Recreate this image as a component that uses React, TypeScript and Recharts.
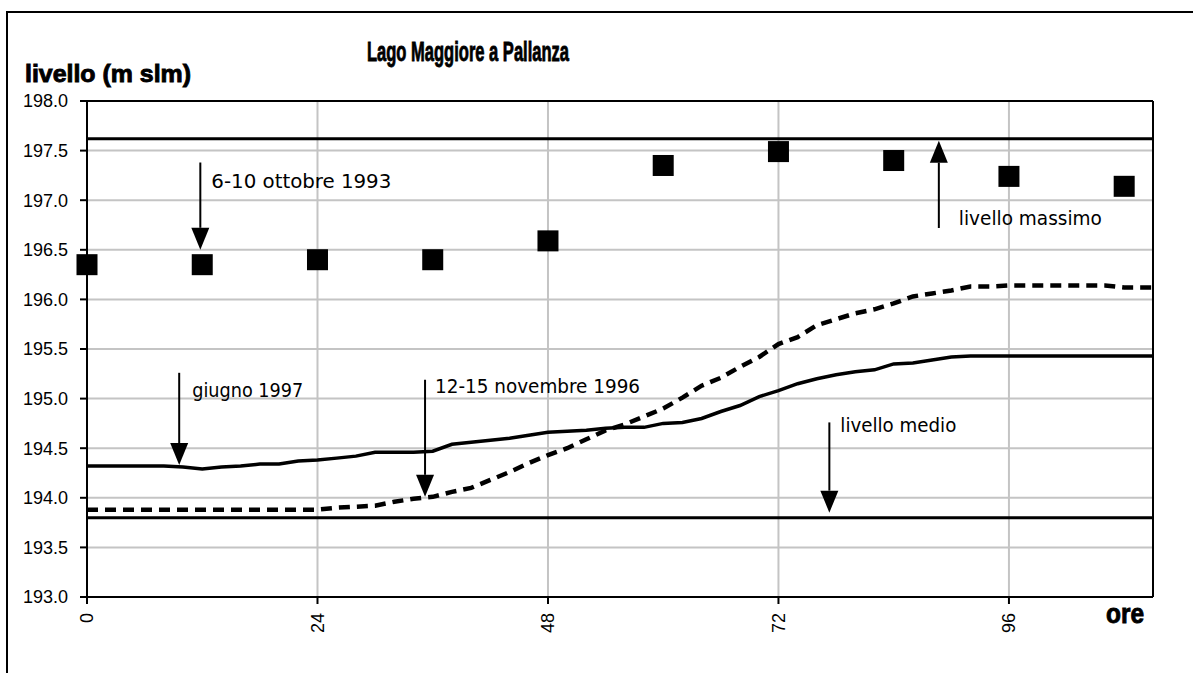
import { ComposedChart, Line, Scatter, XAxis, YAxis, CartesianGrid, ReferenceLine } from 'recharts';

// ore dall'inizio dell'evento
const ore = [0, 2, 4, 6, 8, 10, 12, 14, 16, 18, 20, 22, 24, 26, 28, 30, 32, 34, 36, 38, 40, 42, 44, 46, 48, 50, 52, 54, 56, 58, 60, 62, 64, 66, 68, 70, 72, 74, 76, 78, 80, 82, 84, 86, 88, 90, 92, 94, 96, 98, 100, 102, 104, 106, 108, 110, 111];

const giugno1997 = [194.32, 194.32, 194.32, 194.32, 194.32, 194.31, 194.29, 194.31, 194.32, 194.34, 194.34, 194.37, 194.38, 194.40, 194.42, 194.46, 194.46, 194.46, 194.47, 194.54, 194.56, 194.58, 194.60, 194.63, 194.66, 194.67, 194.68, 194.70, 194.71, 194.71, 194.75, 194.76, 194.80, 194.87, 194.93, 195.02, 195.08, 195.15, 195.20, 195.24, 195.27, 195.29, 195.35, 195.36, 195.39, 195.42, 195.43, 195.43, 195.43, 195.43, 195.43, 195.43, 195.43, 195.43, 195.43, 195.43, 195.43];

const novembre1996 = [193.88, 193.88, 193.88, 193.88, 193.88, 193.88, 193.88, 193.88, 193.88, 193.88, 193.88, 193.88, 193.88, 193.90, 193.91, 193.92, 193.96, 193.99, 194.01, 194.06, 194.10, 194.18, 194.26, 194.35, 194.43, 194.50, 194.59, 194.68, 194.74, 194.82, 194.90, 195.01, 195.13, 195.21, 195.32, 195.42, 195.55, 195.62, 195.74, 195.80, 195.86, 195.90, 195.96, 196.03, 196.06, 196.09, 196.13, 196.13, 196.14, 196.14, 196.14, 196.14, 196.14, 196.14, 196.12, 196.12, 196.12];

const oreOttobre = [0, 12, 24, 36, 48, 60, 72, 84, 96, 108];
const ottobre1993 = [196.35, 196.35, 196.40, 196.40, 196.59, 197.35, 197.49, 197.40, 197.24, 197.14];

const tickOre = [0, 24, 48, 72, 96];
const tickLivello = [193, 193.5, 194, 194.5, 195, 195.5, 196, 196.5, 197, 197.5, 198];

const livelloMassimo = 197.62;
const livelloMedio = 193.8;

const annotazioni = [
  { testo: '6-10 ottobre 1993', ora: 11.8, da: 197.38, a: 196.5, dx: 11, dy: 25, lung: 180 },
  { testo: 'giugno 1997', ora: 9.6, da: 195.26, a: 194.33, dx: 13, dy: 24, lung: 111 },
  { testo: '12-15 novembre 1996', ora: 35.2, da: 195.19, a: 194.01, dx: 10, dy: 13, lung: 205 },
  { testo: 'livello medio', ora: 77.3, da: 194.76, a: 193.85, dx: 11, dy: 10, lung: 116 },
  { testo: 'livello massimo', ora: 88.7, da: 196.72, a: 197.6, dx: 20, dy: -3, lung: 143 },
];

const righe = ore.map((o, i) => ({ ore: o, giugno: giugno1997[i], novembre: novembre1996[i] }));
const puntiOttobre = oreOttobre.map((o, i) => ({ ore: o, livello: ottobre1993[i] }));

const fontTesto = "'DejaVu Sans Condensed', 'Liberation Sans', sans-serif";
const fontTitolo = "'Liberation Sans', Arial, sans-serif";
const fontNumeri = "'Liberation Sans', Arial, sans-serif";

function Freccia(props: any) {
  const { x1, y1, x2, y2, ann } = props;
  const dir = y2 > y1 ? 1 : -1;
  const testa = 22;
  return (
    <g>
      <line x1={x1} y1={y1} x2={x2} y2={y2 - dir * testa} stroke="#000" strokeWidth={2} />
      <polygon points={`${x2},${y2} ${x2 - 9},${y2 - dir * testa} ${x2 + 9},${y2 - dir * testa}`} fill="#000" />
      <text x={x1 + ann.dx} y={y1 + ann.dy} fontSize={20} fontFamily={fontTesto} fill="#000"
        textLength={ann.lung} lengthAdjust="spacingAndGlyphs">{ann.testo}</text>
    </g>
  );
}

function TickOre(props: any) {
  const { x, y, payload } = props;
  return (
    <text x={x} y={y} transform={`rotate(-90 ${x} ${y})`} textAnchor="end" dy="0.35em"
      fontSize={18} fontFamily={fontNumeri} fill="#000">{payload.value}</text>
  );
}

function Quadrato(props: any) {
  const { cx, cy } = props;
  return <rect x={cx - 10.5} y={cy - 10.5} width={21} height={21} fill="#000" />;
}

export default function App() {
  return (
    <div style={{ position: 'absolute', left: 0, top: 0, width: 1193, height: 673, overflow: 'hidden', background: '#fff' }}>
      <div style={{ position: 'absolute', left: 6, top: 11, width: 1300, height: 800, border: '2px solid #000' }} />
      <div style={{ position: 'absolute', left: 0, top: 0 }}>
        <ComposedChart width={1193} height={673} data={righe} margin={{ top: 101, right: 40, bottom: 36, left: 7 }}>
          <CartesianGrid stroke="#c4c4c4" strokeWidth={2} />
          <XAxis dataKey="ore" type="number" domain={[0, 111]} ticks={tickOre}
            height={40} tickSize={7} tickMargin={9} tick={<TickOre />}
            axisLine={{ stroke: '#000', strokeWidth: 2 }} tickLine={{ stroke: '#000', strokeWidth: 2 }} />
          <YAxis type="number" domain={[193, 198]} ticks={tickLivello} width={80}
            tickSize={7} tickMargin={12} tickFormatter={(v: number) => v.toFixed(1)}
            tick={{ fontSize: 18, fill: '#000', fontFamily: fontNumeri }}
            axisLine={{ stroke: '#000', strokeWidth: 2 }} tickLine={{ stroke: '#000', strokeWidth: 2 }} />
          <ReferenceLine y={198} stroke="#000" strokeWidth={2} />
          <ReferenceLine x={111} stroke="#000" strokeWidth={2} />
          <ReferenceLine y={livelloMassimo} stroke="#000" strokeWidth={3} />
          <ReferenceLine y={livelloMedio} stroke="#000" strokeWidth={3} />
          <Line dataKey="giugno" type="linear" stroke="#000" strokeWidth={3.5} dot={false} isAnimationActive={false} />
          <Line dataKey="novembre" type="linear" stroke="#000" strokeWidth={4.5} strokeDasharray="11 7" dot={false} isAnimationActive={false} />
          <Scatter data={puntiOttobre} dataKey="livello" shape={<Quadrato />} isAnimationActive={false} />
          {annotazioni.map((ann) => (
            <ReferenceLine key={ann.testo} segment={[{ x: ann.ora, y: ann.da }, { x: ann.ora, y: ann.a }]}
              shape={(p: any) => <Freccia {...p} ann={ann} />} />
          ))}
        </ComposedChart>
      </div>
      <svg width={1193} height={673} style={{ position: 'absolute', left: 0, top: 0, pointerEvents: 'none' }}>
        <text x={367} y={61} fontSize={28} fontWeight="bold" fontFamily={fontTitolo} fill="#000"
          stroke="#000" strokeWidth={0.9} textLength={202} lengthAdjust="spacingAndGlyphs">Lago Maggiore a Pallanza</text>
        <text x={25} y={82} fontSize={24} fontWeight="bold" fontFamily={fontTitolo} fill="#000"
          stroke="#000" strokeWidth={0.9} textLength={166} lengthAdjust="spacingAndGlyphs">livello (m slm)</text>
        <text x={1106} y={623} fontSize={28} fontWeight="bold" fontFamily={fontTitolo} fill="#000"
          stroke="#000" strokeWidth={0.9} textLength={38} lengthAdjust="spacingAndGlyphs">ore</text>
      </svg>
    </div>
  );
}
